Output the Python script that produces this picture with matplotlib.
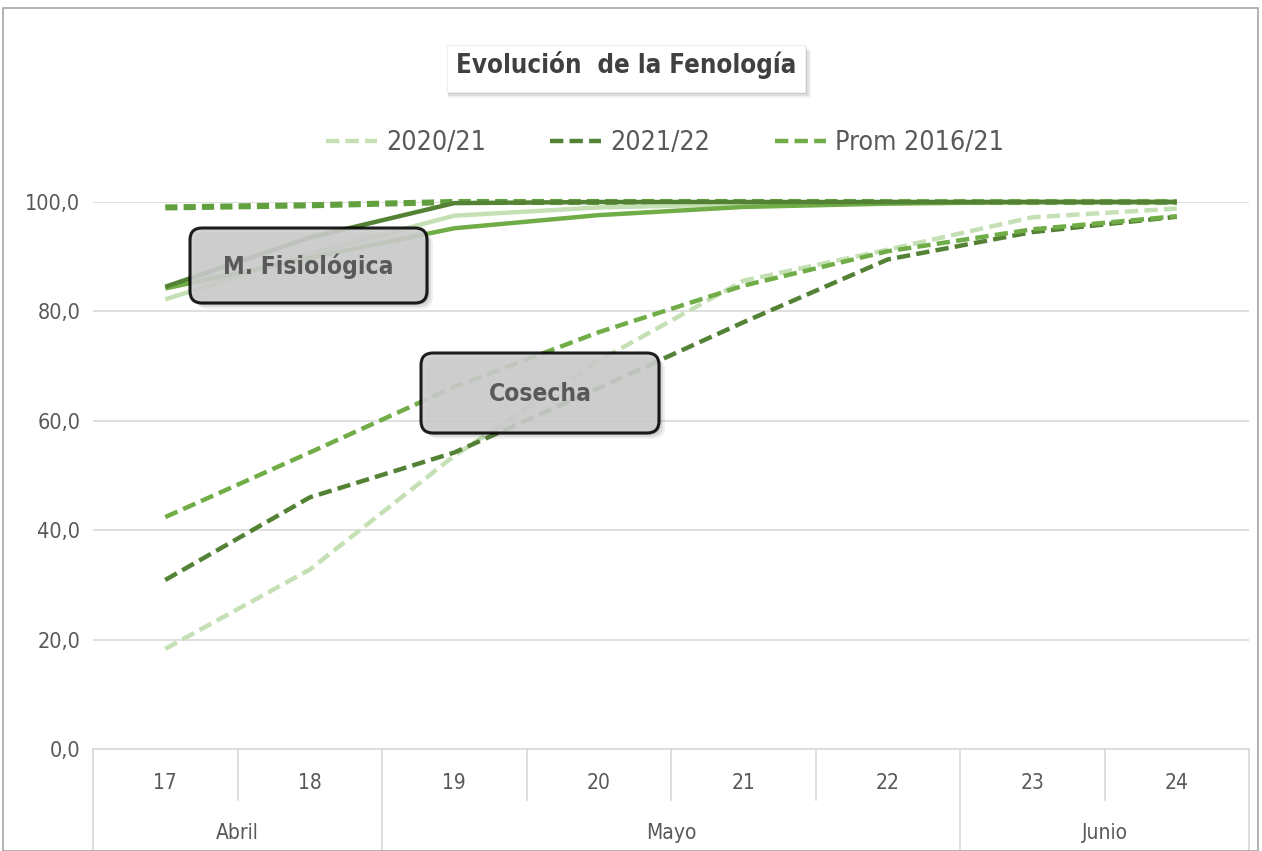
import matplotlib
matplotlib.use("Agg")
import matplotlib.pyplot as plt
from matplotlib.patches import FancyBboxPatch, Rectangle
from matplotlib.ticker import FuncFormatter, MultipleLocator
from matplotlib import font_manager
from matplotlib.font_manager import FontProperties

# ---------------- data ----------------
days = ["17", "18", "19", "20", "21", "22", "23", "24"]
months = ["Abril", "Mayo", "Junio"]
month_spans = [2, 4, 2]

series_names = ["2020/21", "2021/22", "Prom 2016/21"]

# Cosecha (dashed)
cos_2021 = [18.3, 32.8, 53.6, 71.0, 85.6, 91.3, 97.2, 98.8]
cos_2122 = [30.9, 46.0, 54.2, 66.0, 78.0, 89.5, 94.5, 97.3]
cos_prom = [42.4, 54.2, 66.2, 76.2, 84.7, 91.0, 95.0, 97.4]

# M. Fisiológica (solid)
mf_2021 = [82.2, 90.5, 97.5, 99.0, 99.6, 100.0, 100.0, 100.0]
mf_2122 = [84.5, 93.5, 99.8, 100.0, 100.0, 100.0, 100.0, 100.0]
mf_prom = [84.2, 89.8, 95.2, 97.6, 99.1, 99.7, 100.0, 100.0]

# upper dashed series near 100
top_prom = [99.0, 99.4, 100.0, 100.0, 100.0, 100.0, 100.0, 100.0]

# ---------------- fonts ----------------
WMAP = {"ultralight": 200, "light": 300, "normal": 400, "regular": 400, "book": 400,
        "medium": 500, "roman": 400, "semibold": 600, "demibold": 600, "demi": 600,
        "bold": 700, "heavy": 800, "extra bold": 800, "black": 900}


def _w(v):
    if isinstance(v, str):
        return WMAP.get(v.lower(), 400)
    return int(v)


cands = []
for f in font_manager.fontManager.ttflist:
    nm = f.name.lower()
    st = str(f.stretch).lower()
    cond = ("condensed" in st and "semi" not in st) or "narrow" in nm or ("condensed" in nm and "semi" not in nm)
    if cond and f.style == "normal" and "mono" not in nm and "serif" not in nm:
        cands.append((f, _w(f.weight)))


def pick(target, lo, hi):
    best = None
    for f, w in cands:
        if lo <= w <= hi:
            d = abs(w - target)
            if best is None or d < best[0]:
                best = (d, f)
    return best[1].fname if best else None


reg_file = pick(400, 350, 550)
bold_file = pick(700, 600, 800)


def FP(size, bold=False):
    fn = bold_file if bold else reg_file
    if fn:
        return FontProperties(fname=fn, size=size)
    return FontProperties(family=["Lato", "DejaVu Sans"], size=size * 0.85,
                          weight="bold" if bold else "normal")


plt.rcParams["font.family"] = ["Lato", "DejaVu Sans"]

C_LIGHT = "#C5E0B4"
C_DARK = "#548235"
C_MED = "#70AD47"
C_TOP = "#62A03F"
TXT = "#595959"
GRID = "#D9D9D9"

W, H = 1262, 851
fig = plt.figure(figsize=(W / 100, H / 100), dpi=100)
fig.patch.set_facecolor("white")

ax_l, ax_r, ax_t, ax_b = 93, 1249, 202, 749
ax = fig.add_axes([ax_l / W, 1 - ax_b / H, (ax_r - ax_l) / W, (ax_b - ax_t) / H])
x = list(range(len(days)))
ax.set_xlim(-0.5, len(days) - 0.5)
ax.set_ylim(0, 100)

for s in ["top", "right", "left"]:
    ax.spines[s].set_visible(False)
ax.spines["bottom"].set_color(GRID)
ax.spines["bottom"].set_linewidth(1.2)

ax.yaxis.set_major_locator(MultipleLocator(20))
ax.yaxis.set_major_formatter(FuncFormatter(lambda v, p: f"{v:.1f}".replace(".", ",")))
ax.tick_params(axis="y", length=0, pad=9, labelcolor=TXT)
ax.grid(axis="y", color=GRID, linewidth=1.2)
ax.set_axisbelow(True)
ax.set_xticks([])
fig.canvas.draw()
for lab in ax.get_yticklabels():
    lab.set_fontproperties(FP(15.5))

lw = 3.2
dash = (3.0, 1.4)

ax.plot(x, mf_2021, color=C_LIGHT, lw=lw, solid_capstyle="butt", clip_on=False, zorder=3)
ax.plot(x, mf_prom, color=C_MED, lw=lw, solid_capstyle="butt", clip_on=False, zorder=3)
ax.plot(x, mf_2122, color=C_DARK, lw=lw, solid_capstyle="butt", clip_on=False, zorder=3)
ax.plot(x, top_prom, color=C_TOP, lw=lw + 1.2, dashes=(2.0, 1.0), clip_on=False, zorder=2)

l1, = ax.plot(x, cos_2021, color=C_LIGHT, lw=lw, dashes=dash, clip_on=False, zorder=3)
l2, = ax.plot(x, cos_2122, color=C_DARK, lw=lw, dashes=dash, clip_on=False, zorder=3)
l3, = ax.plot(x, cos_prom, color=C_MED, lw=lw, dashes=dash, clip_on=False, zorder=3)

# ---------------- category axis (two levels) ----------------
ax_h = ax_b - ax_t
day_depth = -(800 - ax_b) / ax_h
month_depth = -(851 - ax_b) / ax_h
for i, d in enumerate(days):
    ax.text(i, -(783 - ax_b) / ax_h, d, transform=ax.get_xaxis_transform(),
            ha="center", va="center", fontproperties=FP(15), color=TXT, clip_on=False)
month_bounds = [-0.5]
for sp in month_spans:
    month_bounds.append(month_bounds[-1] + sp)
for b in [i - 0.5 for i in range(len(days) + 1)]:
    depth = month_depth if b in month_bounds else day_depth
    ax.plot([b, b], [0, depth], transform=ax.get_xaxis_transform(), color=GRID,
            lw=1.2, clip_on=False)
for m, a, b in zip(months, month_bounds[:-1], month_bounds[1:]):
    ax.text((a + b) / 2, -(833 - ax_b) / ax_h, m, transform=ax.get_xaxis_transform(),
            ha="center", va="center", fontproperties=FP(15), color=TXT, clip_on=False)

# ---------------- legend ----------------
fig.legend([l1, l2, l3], series_names, loc="center", bbox_to_anchor=(665 / W, 1 - 143 / H),
           ncol=3, frameon=False, prop=FP(19.3), handlelength=1.9, handletextpad=0.35,
           columnspacing=2.4, labelcolor=TXT)


# ---------------- title box ----------------
def fig_rect(x0, y0, x1, y1):
    return (x0 / W, 1 - y1 / H, (x1 - x0) / W, (y1 - y0) / H)


tx0, ty0, tx1, ty1 = 447, 45, 805, 92
for k, a in [(6, 0.10), (4, 0.16), (2, 0.22)]:
    r = fig_rect(tx0 + 1, ty0 + k, tx1 + k, ty1 + k)
    fig.patches.append(Rectangle(r[:2], r[2], r[3], transform=fig.transFigure,
                                 facecolor="#7F7F7F", edgecolor="none", alpha=a, zorder=1))
r = fig_rect(tx0, ty0, tx1, ty1)
fig.patches.append(Rectangle(r[:2], r[2], r[3], transform=fig.transFigure,
                             facecolor="white", edgecolor="#EEEEEE", lw=0.8, zorder=2))
fig.text((tx0 + tx1) / 2 / W, 1 - 65 / H, "Evolución  de la Fenología", ha="center", va="center",
         fontproperties=FP(18.5, bold=True), color="#404040", zorder=3)


# ---------------- annotation boxes ----------------
def label_box(x0, y0, x1, y1, text):
    pad = 12
    for k, a in [(6, 0.08), (4, 0.12), (2, 0.16)]:
        r = fig_rect(x0 + k + pad, y0 + k + pad, x1 + k - pad, y1 + k - pad)
        fig.patches.append(FancyBboxPatch(r[:2], r[2], r[3], transform=fig.transFigure,
                                          boxstyle=f"round,pad={pad / W},rounding_size={12 / W}",
                                          facecolor="#404040", edgecolor="none", alpha=a, zorder=4,
                                          mutation_aspect=W / H))
    r = fig_rect(x0 + pad, y0 + pad, x1 - pad, y1 - pad)
    fig.patches.append(FancyBboxPatch(r[:2], r[2], r[3], transform=fig.transFigure,
                                      boxstyle=f"round,pad={pad / W},rounding_size={12 / W}",
                                      facecolor="#CFCFCF", edgecolor="black", lw=2.2, alpha=0.88,
                                      zorder=5, mutation_aspect=W / H))
    fig.text((x0 + x1) / 2 / W, 1 - ((y0 + y1) / 2 + 1) / H, text, ha="center", va="center",
             fontproperties=FP(17.6, bold=True), color="#595959", zorder=6)


label_box(190, 228, 427, 303, "M. Fisiológica")
label_box(421, 353, 659, 433, "Cosecha")

fig.patches.append(Rectangle((3 / W, 0), (W - 7) / W, 1 - 8 / H, transform=fig.transFigure,
                             facecolor="none", edgecolor="#A6A6A6", lw=1.2, zorder=0))

fig.savefig("out.png", dpi=100)
